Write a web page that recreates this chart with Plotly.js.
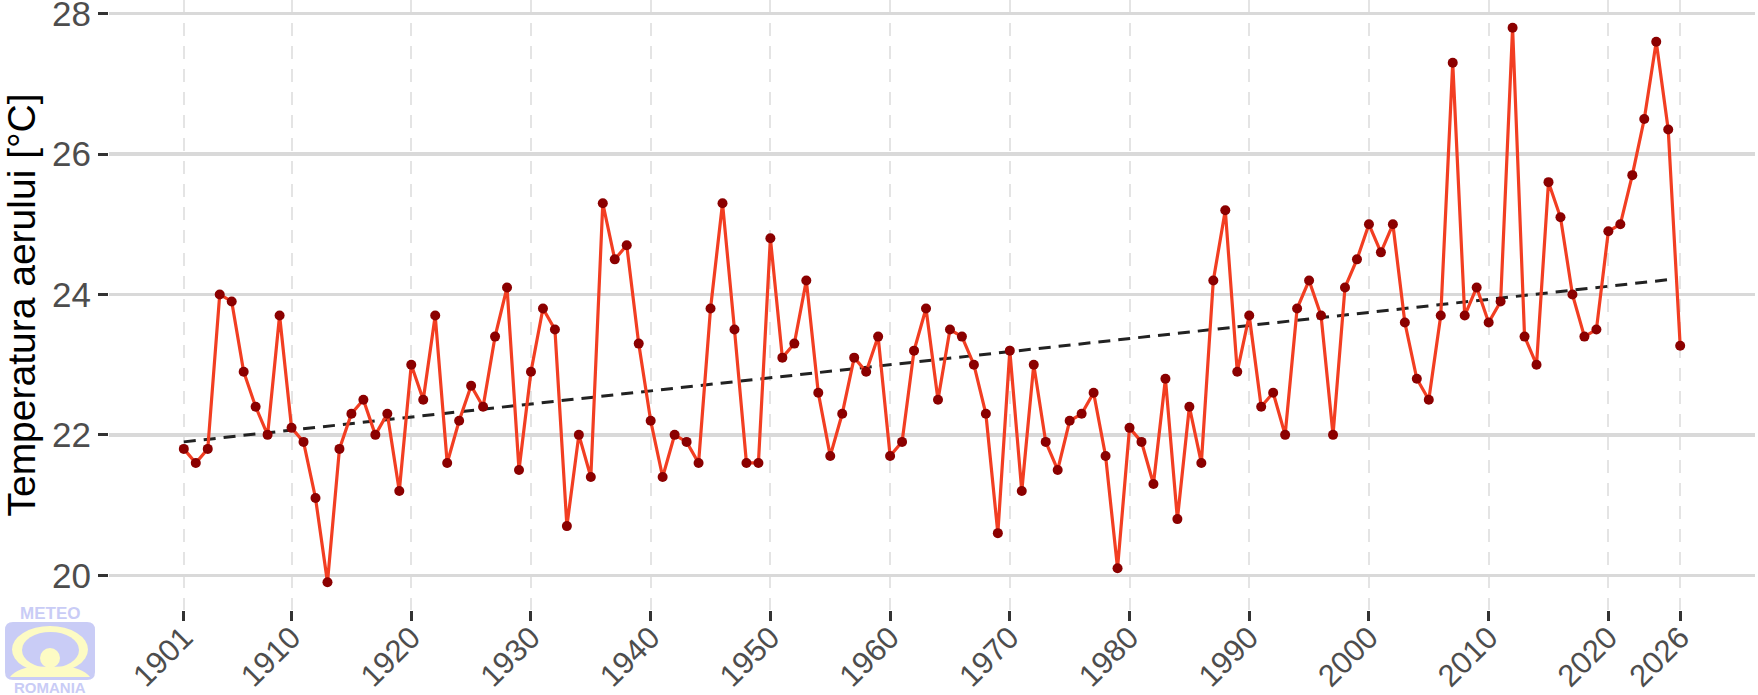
<!DOCTYPE html>
<html>
<head>
<meta charset="utf-8">
<script src="https://cdn.plot.ly/plotly-3.0.1.min.js"></script>
<style>
  html, body { margin: 0; padding: 0; background: #fff; }
  #chart { width: 1758px; height: 695px; }
</style>
</head>
<body>
<div id="chart"></div>
<script>
// --- date ---
const firstYear = 1901;
const temps = [
    21.8, 21.6, 21.8, 24.0, 23.9, 22.9, 22.4, 22.0, 23.7, 22.1,   // 1901-1910
    21.9, 21.1, 19.9, 21.8, 22.3, 22.5, 22.0, 22.3, 21.2, 23.0,   // 1911-1920
    22.5, 23.7, 21.6, 22.2, 22.7, 22.4, 23.4, 24.1, 21.5, 22.9,   // 1921-1930
    23.8, 23.5, 20.7, 22.0, 21.4, 25.3, 24.5, 24.7, 23.3, 22.2,   // 1931-1940
    21.4, 22.0, 21.9, 21.6, 23.8, 25.3, 23.5, 21.6, 21.6, 24.8,   // 1941-1950
    23.1, 23.3, 24.2, 22.6, 21.7, 22.3, 23.1, 22.9, 23.4, 21.7,   // 1951-1960
    21.9, 23.2, 23.8, 22.5, 23.5, 23.4, 23.0, 22.3, 20.6, 23.2,   // 1961-1970
    21.2, 23.0, 21.9, 21.5, 22.2, 22.3, 22.6, 21.7, 20.1, 22.1,   // 1971-1980
    21.9, 21.3, 22.8, 20.8, 22.4, 21.6, 24.2, 25.2, 22.9, 23.7,   // 1981-1990
    22.4, 22.6, 22.0, 23.8, 24.2, 23.7, 22.0, 24.1, 24.5, 25.0,   // 1991-2000
    24.6, 25.0, 23.6, 22.8, 22.5, 23.7, 27.3, 23.7, 24.1, 23.6,   // 2001-2010
    23.9, 27.8, 23.4, 23.0, 25.6, 25.1, 24.0, 23.4, 23.5, 24.9,   // 2011-2020
    25.0, 25.7, 26.5, 27.6, 26.35, 23.27                          // 2021-2026
];
const years = temps.map((_, i) => firstYear + i);

// capetele dreptei de tendinta
const trendYears = [1901, 2025];
const trendValues = [21.9, 24.21];

const xTicks = [1901, 1910, 1920, 1930, 1940, 1950, 1960, 1970, 1980, 1990, 2000, 2010, 2020, 2026];
const yTicks = [20, 22, 24, 26, 28];
const yTitle = 'Temperatura aerului [°C]';

// --- geometrie ---
const W = 1758, H = 695;
const M = { l: 109, r: 3, t: 0, b: 85 };
const plotW = W - M.l - M.r, plotH = H - M.t - M.b;
// pixel -> paper (pentru sigla)
const px = x => (x - M.l) / plotW;
const py = y => (H - M.b - y) / plotH;

const FONT = 'Liberation Sans, Arial, Helvetica, sans-serif';
const logoBlue = '#C9CCF6';
const logoYellow = '#FDFBC4';

function ellipse(x0, y0, x1, y1, color) {
    return { type: 'circle', xref: 'paper', yref: 'paper', x0: px(x0), x1: px(x1), y0: py(y1), y1: py(y0),
             fillcolor: color, line: { width: 0 }, layer: 'above' };
}

function roundRect(x0, y0, x1, y1, r, color) {
    const X = v => px(v), Y = v => py(v);
    const p = `M ${X(x0 + r)} ${Y(y0)} L ${X(x1 - r)} ${Y(y0)} Q ${X(x1)} ${Y(y0)} ${X(x1)} ${Y(y0 + r)}` +
              ` L ${X(x1)} ${Y(y1 - r)} Q ${X(x1)} ${Y(y1)} ${X(x1 - r)} ${Y(y1)}` +
              ` L ${X(x0 + r)} ${Y(y1)} Q ${X(x0)} ${Y(y1)} ${X(x0)} ${Y(y1 - r)}` +
              ` L ${X(x0)} ${Y(y0 + r)} Q ${X(x0)} ${Y(y0)} ${X(x0 + r)} ${Y(y0)} Z`;
    return { type: 'path', xref: 'paper', yref: 'paper', path: p, fillcolor: color, line: { width: 0 }, layer: 'above' };
}

function wing(color) {
    const X = v => px(v), Y = v => py(v);
    const p = `M ${X(10)} ${Y(677)} Q ${X(20)} ${Y(664)} ${X(50)} ${Y(667)} Q ${X(80)} ${Y(664)} ${X(90)} ${Y(677)} Z`;
    return { type: 'path', xref: 'paper', yref: 'paper', path: p, fillcolor: color, line: { width: 0 }, layer: 'above' };
}

const data = [
    {
        x: trendYears, y: trendValues, type: 'scatter', mode: 'lines',
        line: { color: '#222222', width: 3, dash: '12px,8px' },
        hoverinfo: 'skip'
    },
    {
        x: years, y: temps, type: 'scatter', mode: 'lines+markers',
        line: { color: '#F23E22', width: 3.2 },
        marker: { color: '#8B0000', size: 10 },
        hoverinfo: 'skip'
    }
];

const layout = {
    width: W, height: H,
    margin: { l: M.l, r: M.r, t: M.t, b: M.b, pad: 0 },
    paper_bgcolor: '#ffffff', plot_bgcolor: '#ffffff',
    showlegend: false,
    font: { family: FONT },
    xaxis: {
        range: [1894.75, 2032.25],
        tickmode: 'array', tickvals: xTicks, ticktext: xTicks.map(String),
        tickangle: -45,
        ticks: 'outside', ticklen: 10, tickwidth: 3, tickcolor: '#333333',
        tickfont: { size: 31, color: '#4D4D4D', family: FONT },
        ticklabeloverflow: 'allow', ticklabelstandoff: -14,
        showgrid: true, gridcolor: '#E4E4E4', gridwidth: 2, griddash: '13px,10px',
        zeroline: false, showline: false, automargin: false
    },
    yaxis: {
        range: [19.505, 28.195],
        tickmode: 'array', tickvals: yTicks, ticktext: yTicks.map(String),
        ticks: 'outside', ticklen: 10, tickwidth: 3, tickcolor: '#333333',
        tickfont: { size: 35, color: '#4D4D4D', family: FONT },
        ticklabeloverflow: 'allow',
        showgrid: true, gridcolor: '#D9D9D9', gridwidth: 3.5,
        zeroline: false, showline: false, automargin: false,
        title: { text: yTitle, font: { size: 39, color: '#000000', family: FONT }, standoff: 5 }
    },
    shapes: [
        roundRect(5, 622, 95, 680, 8, logoBlue),
        ellipse(12, 626, 88, 673, logoYellow),
        ellipse(22, 632, 79, 668, logoBlue),
        wing(logoYellow),
        ellipse(40, 648, 60, 668, logoYellow)
    ],
    annotations: [
        { text: '<b>METEO</b>', xref: 'paper', yref: 'paper', x: px(50), y: py(613), showarrow: false,
          xanchor: 'center', yanchor: 'middle', font: { size: 17, color: logoBlue, family: FONT } },
        { text: '<b>ROMANIA</b>', xref: 'paper', yref: 'paper', x: px(50), y: py(687), showarrow: false,
          xanchor: 'center', yanchor: 'middle', font: { size: 15, color: logoBlue, family: FONT } }
    ]
};

Plotly.newPlot('chart', data, layout, { staticPlot: true, displayModeBar: false });
</script>
</body>
</html>
